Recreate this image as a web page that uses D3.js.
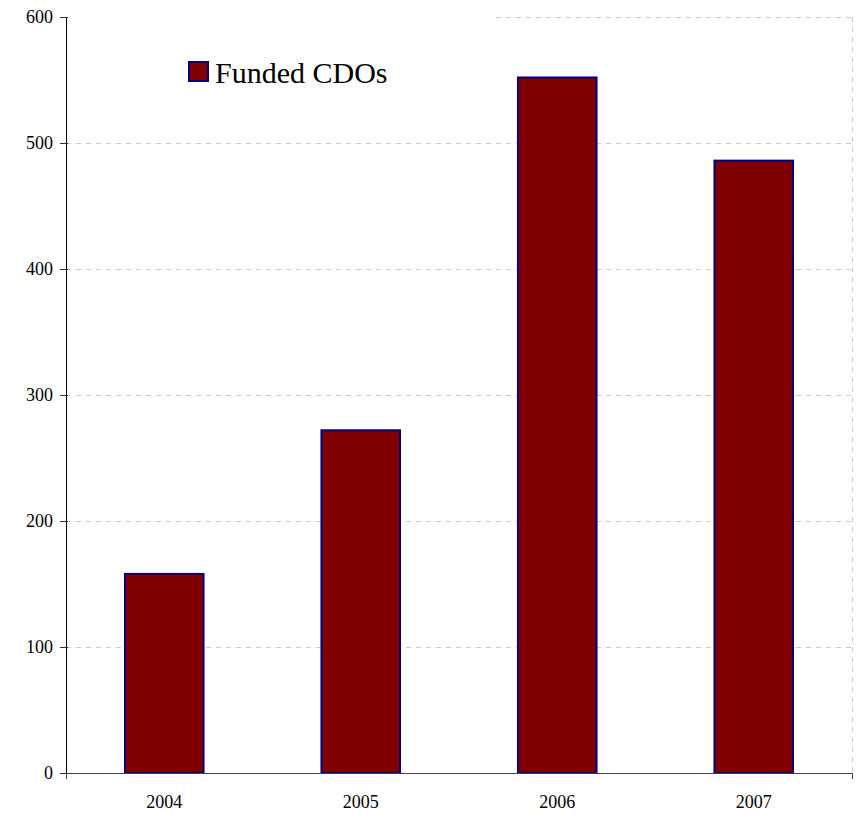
<!DOCTYPE html>
<html>
<head>
<meta charset="utf-8">
<script src="https://cdn.jsdelivr.net/npm/d3@7"></script>
<style>
  body { margin: 0; background: #fff; }
  text { font-family: "Liberation Serif", "Times New Roman", serif; }
</style>
</head>
<body>
<script>
var years = ["2004", "2005", "2006", "2007"];
var funded = [158, 272, 552, 486];
var yTicks = [0, 100, 200, 300, 400, 500, 600];
var seriesName = "Funded CDOs";

var margin = {top: 17, right: 5, bottom: 42, left: 66},
    width = 857 - margin.left - margin.right,
    height = 815 - margin.top - margin.bottom;

var svg = d3.select("body").append("svg")
    .attr("width", 857)
    .attr("height", 815)
  .append("g")
    .attr("transform", "translate(" + margin.left + "," + margin.top + ")");

var x = d3.scaleBand().domain(years).range([0, width]).paddingInner(0.6).paddingOuter(0.3);
var y = d3.scaleLinear().domain([0, 600]).range([height, 0]);

// grid
svg.selectAll(".grid").data(yTicks.filter(function(d) { return d > 0; }))
  .enter().append("line")
    .attr("x1", 0).attr("x2", width)
    .attr("y1", function(d) { return y(d) + 0.5; })
    .attr("y2", function(d) { return y(d) + 0.5; })
    .attr("stroke", "#ccc").attr("stroke-dasharray", "5,5");

svg.append("line")
    .attr("x1", width + 0.5).attr("x2", width + 0.5)
    .attr("y1", 0).attr("y2", height)
    .attr("stroke", "#ccc").attr("stroke-dasharray", "5,5");

// bars
svg.selectAll(".bar").data(funded)
  .enter().append("rect")
    .attr("x", function(d, i) { return x(years[i]); })
    .attr("y", function(d) { return y(d); })
    .attr("width", x.bandwidth())
    .attr("height", function(d) { return height - y(d); })
    .attr("fill", "#800000")
    .attr("stroke", "#000080")
    .attr("stroke-width", 2);

// legend box (hides top grid behind it)
var lg = svg.append("g");
lg.append("rect").attr("x", 1).attr("y", -2).attr("width", 428).attr("height", 100).attr("fill", "#fff");
lg.append("rect").attr("x", 123).attr("y", 45).attr("width", 19).attr("height", 19)
    .attr("fill", "#800000").attr("stroke", "#000080").attr("stroke-width", 2);
lg.append("text").attr("x", 149).attr("y", 66).style("font-size", "30px").attr("fill", "#000").text(seriesName);

// y axis
var yAxis = svg.append("g")
    .call(d3.axisLeft(y).tickValues(yTicks).tickSize(6).tickSizeOuter(0));
yAxis.select(".domain").attr("stroke", "#000");
yAxis.selectAll(".tick line").attr("x2", -6).attr("x1", 2).attr("stroke", "#333");
yAxis.selectAll(".tick text").style("font-size", "18px").attr("fill", "#000")
    .attr("x", -13);

// x axis
var xAxis = svg.append("g")
    .attr("transform", "translate(0," + height + ")")
    .call(d3.axisBottom(x).tickSize(0).tickSizeOuter(6).tickPadding(22));
xAxis.select(".domain").attr("stroke", "#444");
xAxis.selectAll(".tick text").style("font-size", "18px").attr("fill", "#000");
</script>
</body>
</html>
